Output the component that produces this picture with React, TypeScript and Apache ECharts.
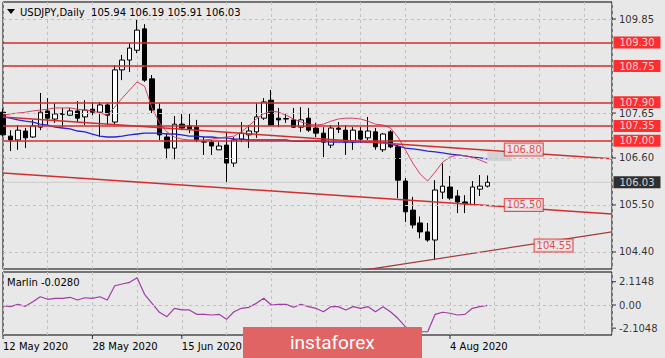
import { useEffect, useRef } from 'react';
import * as echarts from 'echarts';

// ---------- data ----------
const symbolName = 'USDJPY,Daily';
const lastQuote = ['105.94', '106.19', '105.91', '106.03'];

const opens = [107.67, 107.11, 107.02, 107.23, 107.09, 107.32, 107.70, 107.51, 107.62, 107.60,
  107.70, 107.56, 107.74, 107.67, 107.84, 107.44, 108.66, 108.89, 109.12, 109.62,
  108.45, 107.74, 107.09, 106.83, 107.39, 107.35, 107.32, 106.97, 106.97, 106.79,
  106.90, 106.48, 107.04, 107.14, 107.21, 107.53, 107.95, 107.53, 107.52, 107.49,
  107.32, 107.53, 107.30, 107.18, 106.90, 107.30, 107.25, 106.97, 107.23, 107.07,
  107.21, 106.79, 107.21, 106.86, 106.06, 105.38, 105.08, 104.87, 104.68, 105.80,
  105.92, 105.71, 105.57, 105.50, 105.87, 105.94];
const highs = [107.75, 107.25, 107.37, 107.30, 107.49, 108.12, 108.00, 107.88, 107.77, 107.77,
  107.93, 107.95, 107.91, 107.91, 107.88, 108.77, 109.01, 109.29, 109.85, 109.73,
  108.54, 107.88, 107.18, 107.58, 107.63, 107.65, 107.49, 107.09, 107.02, 106.97,
  107.21, 107.09, 107.44, 107.37, 107.88, 108.00, 108.19, 107.77, 107.63, 107.77,
  107.79, 107.77, 107.42, 107.32, 107.37, 107.44, 107.37, 107.32, 107.32, 107.56,
  107.30, 107.18, 107.25, 106.90, 106.13, 105.69, 105.23, 105.08, 106.08, 106.47,
  106.18, 105.85, 105.73, 106.06, 106.20, 106.19];
const lows = [107.10, 106.76, 106.79, 106.83, 107.07, 107.25, 107.37, 107.42, 107.32, 107.58,
  107.44, 107.37, 107.60, 107.09, 107.37, 107.37, 108.42, 108.61, 109.05, 108.38,
  107.65, 107.02, 106.57, 106.57, 107.25, 107.18, 106.97, 106.67, 106.67, 106.79,
  106.04, 106.39, 106.97, 106.83, 107.07, 107.49, 107.35, 107.32, 107.42, 107.30,
  107.21, 107.21, 107.09, 106.62, 106.83, 107.18, 106.67, 106.79, 106.95, 107.02,
  106.79, 106.74, 106.83, 105.66, 105.10, 104.95, 104.72, 104.64, 104.21, 105.64,
  105.62, 105.31, 105.31, 105.48, 105.71, 105.91];
const closes = [107.14, 107.02, 107.25, 107.07, 107.35, 107.67, 107.53, 107.63, 107.64, 107.70,
  107.53, 107.72, 107.67, 107.84, 107.60, 108.66, 108.89, 109.17, 109.59, 108.42,
  107.72, 107.14, 106.83, 107.39, 107.30, 107.28, 107.02, 106.98, 106.88, 106.88,
  106.48, 107.02, 107.18, 107.23, 107.56, 107.91, 107.37, 107.49, 107.51, 107.32,
  107.49, 107.25, 107.18, 106.97, 107.30, 107.27, 106.97, 107.25, 107.04, 107.23,
  106.86, 107.16, 106.86, 106.08, 105.34, 105.03, 104.87, 104.68, 105.85, 105.94,
  105.66, 105.57, 105.53, 105.92, 105.94, 106.03];

const maSlow = [107.56, 107.53, 107.49, 107.46, 107.44, 107.39, 107.37, 107.32, 107.30, 107.28,
  107.23, 107.21, 107.16, 107.11, 107.09, 107.09, 107.11, 107.14, 107.16, 107.18,
  107.18, 107.18, 107.16, 107.16, 107.14, 107.11, 107.11, 107.09, 107.09, 107.07,
  107.07, 107.04, 107.04, 107.02, 107.02, 107.02, 107.02, 107.02, 107.02, 106.99,
  106.99, 106.99, 106.99, 106.99, 106.97, 106.97, 106.97, 106.97, 106.97, 106.97,
  106.97, 106.97, 106.93, 106.88, 106.83, 106.81, 106.79, 106.76, 106.74, 106.72,
  106.69, 106.67, 106.65, 106.62, 106.60, 106.58];
const maFast = [107.60, 107.63, 107.65, 107.67, 107.70, 107.72, 107.74, 107.77, 107.77, 107.77,
  107.74, 107.72, 107.70, 107.65, 107.60, 107.79, 108.00, 108.19, 108.38, 108.28,
  107.77, 107.42, 107.21, 107.09, 107.04, 107.02, 107.02, 107.02, 107.04, 107.07,
  107.09, 107.11, 107.21, 107.35, 107.51, 107.63, 107.70, 107.67, 107.60, 107.51,
  107.44, 107.39, 107.37, 107.39, 107.46, 107.51, 107.53, 107.53, 107.51, 107.46,
  107.39, 107.37, 107.30, 107.09, 106.79, 106.48, 106.22, 106.06, 106.27, 106.50,
  106.62, 106.67, 106.65, 106.62, 106.55, 106.48];
const marlin = [-0.06, -0.15, 0.06, -0.12, 0.30, 0.75, 0.52, 0.61, 0.61, 0.70,
  0.45, 0.66, 0.61, 0.75, 0.45, 1.75, 1.91, 2.06, 2.48, 0.97,
  0.15, -0.66, -1.06, -0.30, -0.45, -0.45, -0.85, -0.85, -0.91, -0.85,
  -1.30, -0.61, -0.30, -0.21, 0.15, 0.61, 0.00, 0.06, 0.06, -0.21,
  0.06, -0.15, -0.30, -0.61, -0.15, -0.15, -0.45, -0.15, -0.30, -0.15,
  -0.61, -0.15, -0.61, -1.21, -1.97, -2.36, -2.43, -2.43, -0.85, -0.66,
  -0.75, -0.91, -0.85, -0.30, -0.15, -0.03];
const marlinLast = '-0.0280';

// date ticks every 12 bars; the labels at bars 36 and 48 are covered by the logo in the reference
const xTickIndex = [0, 12, 24, 36, 48, 60];
const xLabelIndex = [0, 12, 24, 60];
const xLabels = ['12 May 2020', '28 May 2020', '15 Jun 2020', '4 Aug 2020'];

const gridPrices = [109.85, 108.75, 107.65, 106.60, 105.50, 104.40];
const priceTickLabels = [109.85, 107.65, 106.60, 105.50, 104.40];
const levels = [109.30, 108.75, 107.90, 107.35, 107.00];
const lastPrice = 106.03;

const trendUpper = [[0, 107.56], [81.74, 106.58]];
const trendLower = [[0, 106.25], [81.74, 105.29]];
const trendSupport = [[48.6, 103.98], [81.74, 104.87]];
const trendTagIdx = [69.9, 69.9, 73.9];
const trendTagPrice = [106.80, 105.50, 104.55];
const shadeIdx = [65.0, 68.3];
const shadePrice = [106.74, 106.53];

const marlinTicks = [2.1148, 0, -2.1048];
const marlinTickLabels = ['2.1148', '0.00', '-2.1048'];

// ---------- layout / style ----------
const FONT = 'DejaVu Sans';
const BG = '#e8e8e8';
const X_MAX = 81.74;
const P_MIN = 104.002;
const P_MAX = 110.248;
const M_MIN = -2.727;
const M_MAX = 3.0;
const LEVEL_RED = '#d22e2e';

export default function App() {
  const ref = useRef<HTMLDivElement | null>(null);

  useEffect(() => {
    if (!ref.current) return;
    document.body.style.margin = '0';
    document.body.style.background = BG;
    const chart = echarts.init(ref.current, undefined, { renderer: 'svg' });

    const candles = opens.map((o, i) => [i, o, closes[i], lows[i], highs[i]]);
    const main = { xAxisIndex: 0, yAxisIndex: 0 };
    const sub = { xAxisIndex: 1, yAxisIndex: 1 };
    const dashed = { color: '#c2c2c2', type: [3, 3] as number[], width: 1 };
    const transparent = { color: 'rgba(0,0,0,0)' };

    const xFormatter = (v: number) => {
      const r = Math.round(v);
      if (Math.abs(v - r) > 1e-6) return '';
      const k = xLabelIndex.indexOf(r);
      return k >= 0 ? xLabels[k] : '';
    };

    const plainLabel = { show: true, position: 'right', distance: 3, color: '#000', fontSize: 10, fontFamily: FONT };
    const boxLabel = (bg: string) => ({
      show: true, position: 'right', distance: 1, color: '#fff', backgroundColor: bg,
      padding: [1, 6, 0, 6], lineHeight: 11, fontSize: 10, fontFamily: FONT,
    });

    const option: any = {
      animation: false,
      backgroundColor: BG,
      textStyle: { fontFamily: FONT },
      grid: [
        { left: 3, top: 2, width: 609, height: 267, show: true, borderColor: '#000', borderWidth: 1, backgroundColor: 'transparent' },
        { left: 3, top: 272, width: 609, height: 63, show: true, borderColor: '#000', borderWidth: 1, backgroundColor: 'transparent' },
      ],
      xAxis: [
        {
          gridIndex: 0, type: 'value', min: 0, max: X_MAX, interval: 6,
          axisLine: { show: false }, axisTick: { show: false }, axisLabel: { show: false },
          splitLine: { show: true, lineStyle: dashed },
        },
        {
          gridIndex: 1, type: 'value', min: 0, max: X_MAX, interval: 6,
          axisLine: { show: false }, axisTick: { show: false },
          axisLabel: {
            show: true, formatter: xFormatter, align: 'left', color: '#000', fontSize: 10,
            fontFamily: FONT, margin: 6, showMinLabel: true, showMaxLabel: false,
          },
          splitLine: { show: true, lineStyle: dashed },
        },
      ],
      yAxis: [
        { gridIndex: 0, type: 'value', min: P_MIN, max: P_MAX, show: false, splitLine: { show: false } },
        { gridIndex: 1, type: 'value', min: M_MIN, max: M_MAX, show: false, splitLine: { show: false } },
      ],
      series: [
        {
          name: 'bid', type: 'line', ...main, silent: true, z: 1, symbol: 'none',
          data: [[0, lastPrice], [X_MAX, lastPrice]],
          lineStyle: { color: '#cbcbcb', width: 1 },
          markLine: {
            silent: true, symbol: ['none', 'none'], label: { show: false }, lineStyle: dashed,
            data: gridPrices.map((p) => ({ yAxis: p })),
          },
          markArea: {
            silent: true, itemStyle: { color: '#d3d3d3' },
            data: [[{ xAxis: shadeIdx[0], yAxis: shadePrice[0] }, { xAxis: shadeIdx[1], yAxis: shadePrice[1] }]],
          },
        },
        {
          name: 'USDJPY', type: 'candlestick', ...main, z: 2, silent: true,
          data: candles, encode: { x: 0, y: [1, 2, 3, 4] }, barWidth: 5,
          itemStyle: { color: '#ffffff', color0: '#000000', borderColor: '#000000', borderColor0: '#000000', borderWidth: 1 },
        },
        {
          name: 'maSlow', type: 'line', ...main, z: 3, silent: true, symbol: 'none',
          data: maSlow.map((v, i) => [i, v]), lineStyle: { color: '#2626d4', width: 1.3 },
        },
        {
          name: 'maFast', type: 'line', ...main, z: 3, silent: true, symbol: 'none',
          data: maFast.map((v, i) => [i, v]), lineStyle: { color: '#d8405f', width: 1 },
        },
        {
          name: 'levels', type: 'line', ...main, z: 4, silent: true, symbol: 'none', data: [],
          markLine: {
            silent: true, symbol: ['none', 'none'], label: { show: false },
            lineStyle: { color: LEVEL_RED, width: 1.6, type: 'solid' },
            data: levels.map((p) => ({ yAxis: p })),
          },
        },
        {
          name: 'trendUpper', type: 'line', ...main, z: 4, silent: true, symbol: 'none',
          data: trendUpper, lineStyle: { color: LEVEL_RED, width: 1.5 },
        },
        {
          name: 'trendLower', type: 'line', ...main, z: 4, silent: true, symbol: 'none',
          data: trendLower, lineStyle: { color: LEVEL_RED, width: 1.5 },
        },
        {
          name: 'trendSupport', type: 'line', ...main, z: 4, silent: true, symbol: 'none',
          data: trendSupport, lineStyle: { color: '#a53a3a', width: 1.2 },
        },
        {
          name: 'trendTags', type: 'scatter', ...main, z: 6, silent: true, clip: false,
          symbol: 'rect', symbolSize: 1, itemStyle: transparent,
          data: trendTagPrice.map((p, k) => ({ value: [trendTagIdx[k], p], label: { formatter: p.toFixed(2) } })),
          label: {
            show: true, position: 'inside', color: '#e02424', borderColor: '#e02424', borderWidth: 1,
            backgroundColor: BG, padding: [1, 1, 0, 2], lineHeight: 11, fontSize: 10, fontFamily: FONT,
          },
        },
        {
          name: 'priceAxis', type: 'scatter', ...main, z: 6, silent: true, clip: false,
          symbol: 'rect', symbolSize: [4, 1], symbolOffset: [2, 0], itemStyle: { color: '#000' },
          data: priceTickLabels.map((p) => ({ value: [X_MAX, p], label: { formatter: p.toFixed(2) } })),
          label: plainLabel,
        },
        {
          name: 'levelTags', type: 'scatter', ...main, z: 7, silent: true, clip: false,
          symbol: 'rect', symbolSize: 1, itemStyle: transparent,
          data: levels.map((p) => ({ value: [X_MAX, p], label: { formatter: p.toFixed(2) } })),
          label: boxLabel('#ff0000'),
        },
        {
          name: 'lastTag', type: 'scatter', ...main, z: 7, silent: true, clip: false,
          symbol: 'rect', symbolSize: 1, itemStyle: transparent,
          data: [{ value: [X_MAX, lastPrice], label: { formatter: lastPrice.toFixed(2) } }],
          label: boxLabel('#000000'),
        },
        {
          name: 'Marlin', type: 'line', ...sub, z: 3, silent: true, symbol: 'none',
          data: marlin.map((v, i) => [i, v]), lineStyle: { color: '#a03ca3', width: 1.2 },
          markLine: {
            silent: true, symbol: ['none', 'none'], label: { show: false }, lineStyle: dashed,
            data: [{ yAxis: 0 }],
          },
        },
        {
          name: 'marlinAxis', type: 'scatter', ...sub, z: 6, silent: true, clip: false,
          symbol: 'rect', symbolSize: [4, 1], symbolOffset: [2, 0], itemStyle: { color: '#000' },
          data: marlinTicks.map((p, k) => ({ value: [X_MAX, p], label: { formatter: marlinTickLabels[k] } })),
          label: plainLabel,
        },
        {
          name: 'dateTicks', type: 'scatter', ...sub, z: 6, silent: true, clip: false,
          symbol: 'rect', symbolSize: [1, 4], symbolOffset: [0, 2], itemStyle: { color: '#000' },
          data: xTickIndex.map((i) => [i, M_MIN]),
        },
      ],
      graphic: [
        { type: 'polygon', z: 50, silent: true, shape: { points: [[7, 9], [15, 9], [11, 14]] }, style: { fill: '#000' } },
        {
          type: 'text', z: 50, silent: true, x: 20, y: 12,
          style: { text: `${symbolName}  ${lastQuote.join(' ')}`, fill: '#000', font: `10px "${FONT}"`, verticalAlign: 'middle' },
        },
        {
          type: 'text', z: 50, silent: true, x: 7, y: 282,
          style: { text: `Marlin ${marlinLast}`, fill: '#000', font: `10px "${FONT}"`, verticalAlign: 'middle' },
        },
        { type: 'rect', z: 100, silent: true, shape: { x: 243, y: 327, width: 179, height: 31 }, style: { fill: '#e06464' } },
        {
          type: 'text', z: 101, silent: true, x: 290, y: 342,
          style: { text: 'instaforex', fill: '#ffffff', font: '19px Roboto', verticalAlign: 'middle' },
        },
      ],
    };

    chart.setOption(option);
    return () => chart.dispose();
  }, []);

  return <div ref={ref} style={{ position: 'fixed', left: 0, top: 0, width: 665, height: 358 }} />;
}
